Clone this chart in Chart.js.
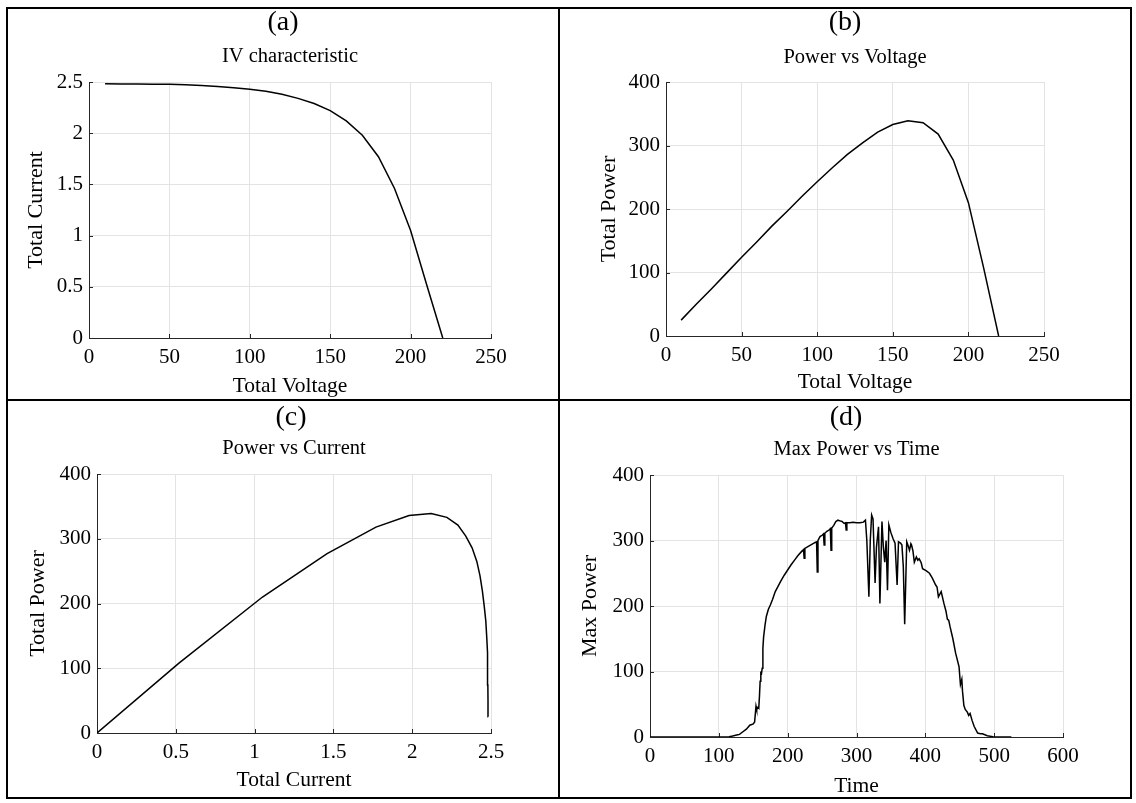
<!DOCTYPE html>
<html><head><meta charset="utf-8">
<script src="https://cdn.jsdelivr.net/npm/chart.js@4.4.1/dist/chart.umd.min.js"></script>
<style>
html,body{margin:0;padding:0;background:#fff;}
#fig{position:relative;width:1136px;height:803px;overflow:hidden;background:#fff;}
canvas{position:absolute;}
.ln{position:absolute;background:#000;z-index:5;}
.lab{position:absolute;font-family:'Liberation Serif','Times New Roman',serif;font-size:28px;color:#000;text-align:center;line-height:30px;height:30px;width:120px;z-index:4;}
</style></head><body>
<div id="fig">
  <canvas id="ca"></canvas><canvas id="cb"></canvas><canvas id="cc"></canvas><canvas id="cd"></canvas>
  <div class="ln" style="left:6px;top:7px;width:1126px;height:2px"></div>
  <div class="ln" style="left:6px;top:797px;width:1126px;height:2px"></div>
  <div class="ln" style="left:6px;top:7px;width:2px;height:792px"></div>
  <div class="ln" style="left:1130px;top:7px;width:2px;height:792px"></div>
  <div class="ln" style="left:558px;top:7px;width:2px;height:792px"></div>
  <div class="ln" style="left:6px;top:399px;width:1126px;height:2px"></div>
  <div class="lab" id="la">(a)</div><div class="lab" id="lb">(b)</div>
  <div class="lab" id="lc">(c)</div><div class="lab" id="ld">(d)</div>
</div>
<script>
// ---- data ----
const voltage = [10,20,30,40,50,60,70,80,90,100,110,120,130,140,150,160,170,180,190,200,210,220];
const current = [2.482,2.481,2.48,2.479,2.477,2.473,2.467,2.457,2.445,2.43,2.41,2.38,2.34,2.29,2.22,2.12,1.98,1.77,1.46,1.05,0.52,0.0];
const power   = [25,50,74,99,124,148,173,196,220,243,265,286,304,321,333,339,336,318,277,210,108,0];
const time = [0,20,40,60,80,100,110,115,120,126,130,135,140,145,150,152,154,155,157,158,159,160,161,162,163,164,165,167,169,172,175,178,182,186,190,195,200,205,210,215,220,223,224,225,230,235,240,242,243,244,247,250,252,253,254,257,260,262,263,264,267,270,273,276,279,282,284,285,286,290,295,300,305,310,313,315,318,320,322,324,327,329,332,334,337,339,341,343,345,347,350,353,356,359,361,364,366,368,370,373,375,377,379,380,382,384,387,389,391,394,396,401,406,410,415,417,419,423,427,430,432,434,436,440,444,449,451,453,454,456,458,461,463,465,468,471,476,480,483,490,498,505,515,525];
const maxPower = [0,0,0,0,0,0,0,0.5,1.5,3,4,8,12,18,20,23,47,42,45,44,62,85,98,97,105,135,152,170,184,195,202,210,222,230,238,247,255,263,270,277,283,286,273,288,291,294,297,298,252,300,306,308,310,293,311,314,316,318,285,319,323,329,331,330,329,326,327,316,327,327,328,327,327,328,331,300,214,300,339,333,235,290,321,204,329,290,267,300,224,324,312,303,296,232,298,296,293,260,172,298,292,285,295,293,284,267,275,270,272,266,257,254,250,243,232,229,214,222,204,192,180,178,168,150,128,107,80,88,70,48,42,38,33,36,25,16,6,5,5,2,0.5,0,0,0];
const voltTicks = [0,50,100,150,200,250];
const currTicks = [0,0.5,1,1.5,2,2.5];
const powerTicks = [0,100,200,300,400];
const timeTicks = [0,100,200,300,400,500,600];

const FONT = "'Liberation Serif','Times New Roman',serif";
const TITLE_SIZE = 20.5, TICK_SIZE = 21, XT_SIZE = 21.5, YT_SIZE = 22;

const tickMarks = {
  id:'tickMarks',
  beforeDatasetsDraw(chart){
    const {ctx, chartArea:a, scales:{x, y}} = chart;
    ctx.save(); ctx.strokeStyle='#262626'; ctx.lineWidth=1; ctx.beginPath();
    x.ticks.forEach(t=>{const p=Math.round(x.getPixelForValue(t.value))+0.5; ctx.moveTo(p,a.bottom); ctx.lineTo(p,a.bottom-4);});
    y.ticks.forEach(t=>{const p=Math.round(y.getPixelForValue(t.value))+0.5; ctx.moveTo(a.left,p); ctx.lineTo(a.left+4,p);});
    ctx.stroke(); ctx.restore();
  }
};

function makePanel(id, labId, cell, plot, txt, xTicks, yTicks, xs, ys){
  const cv = document.getElementById(id);
  cv.width = cell.w; cv.height = cell.h;
  cv.style.left = cell.x+'px'; cv.style.top = cell.y+'px';
  const lab = document.getElementById(labId);
  lab.style.left = (txt.labX-60)+'px'; lab.style.top = (txt.labY-15)+'px';
  const tLH = TITLE_SIZE*1.2;
  const tPt = txt.titleY - cell.y - tLH/2;
  const tPb = plot.T - cell.y - tPt - tLH;
  const gridC = '#e3e3e3';
  new Chart(cv, {
    type:'line',
    data:{datasets:[{data: xs.map((x,i)=>({x:x, y:ys[i]})), borderColor:'#000', borderWidth:1.5, pointRadius:0, tension:0, fill:false}]},
    options:{
      responsive:false, animation:false, devicePixelRatio:1,
      layout:{padding:{left:0, top:0, bottom:0, right: cell.x+cell.w-plot.R}},
      plugins:{legend:{display:false}, tooltip:{enabled:false},
        title:{display:true, fullSize:false, text:txt.title, color:'#000', font:{family:FONT, size:TITLE_SIZE, weight:'normal', lineHeight:1.2}, padding:{top:tPt, bottom:tPb}}},
      scales:{
        x:{type:'linear', min:xTicks[0], max:xTicks[xTicks.length-1],
          afterBuildTicks: s => { s.ticks = xTicks.map(v=>({value:v})); },
          afterFit: s => { s.height = cell.y+cell.h-plot.B; },
          grid:{color:gridC, drawTicks:false, lineWidth:1},
          border:{display:true, color:'#262626', width:1},
          ticks:{color:'#000', font:{family:FONT, size:TICK_SIZE, lineHeight:1.2}, padding:7, maxRotation:0, autoSkip:false, callback: v => String(v)},
          title:{display:true, text:txt.xTitle, color:'#000', font:{family:FONT, size:XT_SIZE, lineHeight:1}, padding:{top:0, bottom: cell.y+cell.h-XT_SIZE/2-txt.xTitleY}}},
        y:{type:'linear', min:yTicks[0], max:yTicks[yTicks.length-1],
          afterBuildTicks: s => { s.ticks = yTicks.map(v=>({value:v})); },
          afterFit: s => { s.width = plot.L - cell.x; },
          grid:{color:gridC, drawTicks:false, lineWidth:1},
          border:{display:true, color:'#262626', width:1},
          ticks:{color:'#000', font:{family:FONT, size:TICK_SIZE, lineHeight:1.2}, padding:6, autoSkip:false, callback: v => String(v)},
          title:{display:true, text:txt.yTitle, color:'#000', font:{family:FONT, size:YT_SIZE, lineHeight:1}, padding:{top: txt.yTitleX - cell.x - YT_SIZE/2, bottom:0}}}
      }
    },
    plugins:[tickMarks]
  });
}

makePanel('ca','la', {x:8,y:9,w:550,h:390}, {L:89,T:82,R:491,B:338},
  {title:'IV characteristic', xTitle:'Total Voltage', yTitle:'Total Current', titleY:57, xTitleY:386, yTitleX:36, labX:283, labY:21},
  voltTicks, currTicks, voltage, current);
makePanel('cb','lb', {x:560,y:9,w:570,h:390}, {L:666,T:82,R:1044,B:336},
  {title:'Power vs Voltage', xTitle:'Total Voltage', yTitle:'Total Power', titleY:58, xTitleY:382, yTitleX:609, labX:845, labY:21},
  voltTicks, powerTicks, voltage, power);
makePanel('cc','lc', {x:8,y:401,w:550,h:396}, {L:97,T:474,R:491,B:733},
  {title:'Power vs Current', xTitle:'Total Current', yTitle:'Total Power', titleY:449, xTitleY:780, yTitleX:38, labX:291, labY:416},
  currTicks, powerTicks, current, power);
makePanel('cd','ld', {x:560,y:401,w:570,h:396}, {L:650,T:475,R:1063,B:737},
  {title:'Max Power vs Time', xTitle:'Time', yTitle:'Max Power', titleY:450, xTitleY:786, yTitleX:590, labX:846, labY:416},
  timeTicks, powerTicks, time, maxPower);
</script>
</body></html>
